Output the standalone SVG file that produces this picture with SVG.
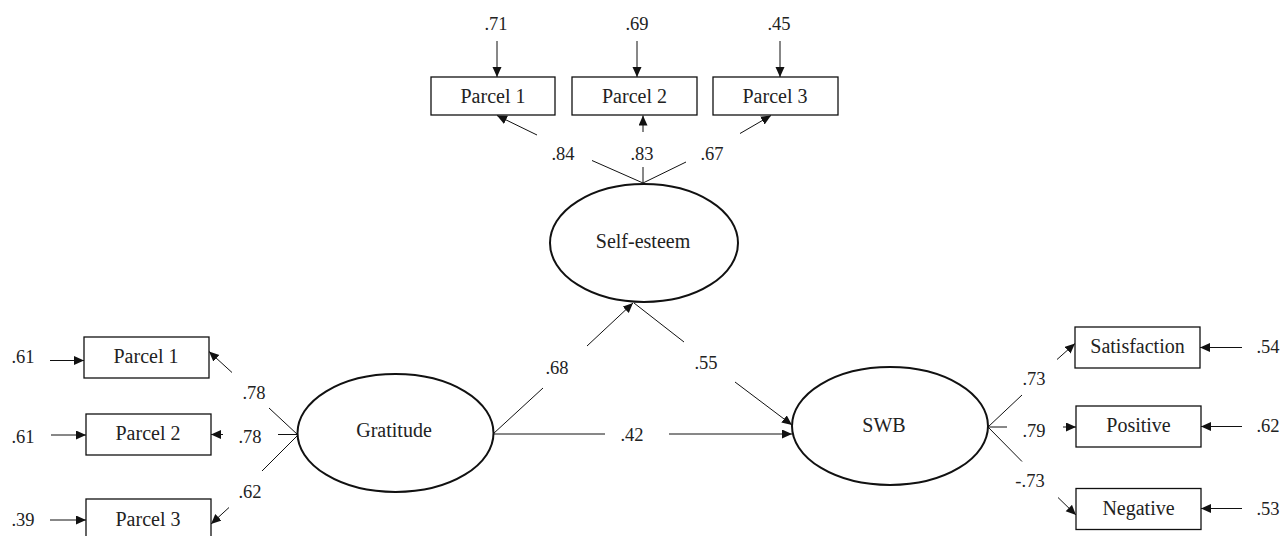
<svg xmlns="http://www.w3.org/2000/svg" width="1284" height="536" viewBox="0 0 1284 536">
<defs>
<style>
.box{fill:#fff;stroke:#111;stroke-width:1.3}
.lat{fill:#fff;stroke:#111;stroke-width:2}
.ln{fill:none;stroke:#111;stroke-width:1}
.lab{font-family:"Liberation Serif","Times New Roman",serif;font-size:20px;fill:#222;text-anchor:middle}
.num{font-family:"Liberation Serif","Times New Roman",serif;font-size:18.5px;fill:#222;text-anchor:middle}
</style>
<marker id="ah" markerUnits="userSpaceOnUse" markerWidth="11" markerHeight="10" refX="10" refY="4.5" orient="auto" viewBox="0 0 11 10">
<path d="M0,0 L10,4.5 L0,9 z" fill="#111"/>
</marker>
</defs>
<rect width="1284" height="536" fill="#fff"/>

<g id="connectors">
<line class="ln" x1="497" y1="41" x2="497" y2="77" marker-end="url(#ah)"/>
<line class="ln" x1="637" y1="41" x2="637" y2="77" marker-end="url(#ah)"/>
<line class="ln" x1="780" y1="41" x2="780" y2="77" marker-end="url(#ah)"/>
<line class="ln" x1="643" y1="183" x2="592" y2="160.5"/>
<line class="ln" x1="537" y1="135" x2="497" y2="115.5" marker-end="url(#ah)"/>
<line class="ln" x1="643" y1="183" x2="643" y2="167"/>
<line class="ln" x1="643" y1="132" x2="643" y2="115.5" marker-end="url(#ah)"/>
<line class="ln" x1="643" y1="183" x2="686" y2="162"/>
<line class="ln" x1="740" y1="133.5" x2="771" y2="115.5" marker-end="url(#ah)"/>
<line class="ln" x1="493" y1="434" x2="543" y2="388"/>
<line class="ln" x1="587" y1="346" x2="633" y2="303" marker-end="url(#ah)"/>
<line class="ln" x1="634" y1="303" x2="684" y2="342"/>
<line class="ln" x1="735" y1="382" x2="792" y2="425" marker-end="url(#ah)"/>
<line class="ln" x1="493" y1="434" x2="605" y2="434"/>
<line class="ln" x1="669" y1="434" x2="792" y2="434" marker-end="url(#ah)"/>
<line class="ln" x1="298" y1="435" x2="269" y2="408"/>
<line class="ln" x1="232" y1="372.5" x2="209" y2="351.5" marker-end="url(#ah)"/>
<line class="ln" x1="298" y1="434.5" x2="278" y2="434.5"/>
<line class="ln" x1="223" y1="434.5" x2="211" y2="434.5" marker-end="url(#ah)"/>
<line class="ln" x1="298" y1="435" x2="262" y2="471"/>
<line class="ln" x1="229" y1="507.5" x2="211" y2="524" marker-end="url(#ah)"/>
<line class="ln" x1="50" y1="360.5" x2="84" y2="360.5" marker-end="url(#ah)"/>
<line class="ln" x1="51" y1="435" x2="86" y2="435" marker-end="url(#ah)"/>
<line class="ln" x1="50" y1="520" x2="86" y2="520" marker-end="url(#ah)"/>
<line class="ln" x1="988" y1="427" x2="1022" y2="395"/>
<line class="ln" x1="1057" y1="359.5" x2="1075" y2="343.5" marker-end="url(#ah)"/>
<line class="ln" x1="988" y1="427" x2="1007" y2="427"/>
<line class="ln" x1="1063" y1="427" x2="1076" y2="427" marker-end="url(#ah)"/>
<line class="ln" x1="988" y1="427" x2="1022" y2="461.5"/>
<line class="ln" x1="1058" y1="497.5" x2="1076" y2="515" marker-end="url(#ah)"/>
<line class="ln" x1="1242" y1="347.5" x2="1200" y2="347.5" marker-end="url(#ah)"/>
<line class="ln" x1="1242" y1="426.5" x2="1201" y2="426.5" marker-end="url(#ah)"/>
<line class="ln" x1="1242" y1="508.5" x2="1201" y2="508.5" marker-end="url(#ah)"/>
</g>

<g id="labels">
<text class="num" x="496" y="30">.71</text>
<text class="num" x="637" y="30">.69</text>
<text class="num" x="779" y="30">.45</text>
<text class="num" x="563" y="160">.84</text>
<text class="num" x="642" y="160">.83</text>
<text class="num" x="712" y="160">.67</text>
<text class="num" x="557" y="374">.68</text>
<text class="num" x="706" y="369">.55</text>
<text class="num" x="632" y="441">.42</text>
<text class="num" x="23" y="363">.61</text>
<text class="num" x="23" y="442.5">.61</text>
<text class="num" x="23" y="526">.39</text>
<text class="num" x="254" y="399">.78</text>
<text class="num" x="250" y="442.5">.78</text>
<text class="num" x="250" y="498">.62</text>
<text class="num" x="1034" y="385">.73</text>
<text class="num" x="1034" y="436.5">.79</text>
<text class="num" x="1030" y="486.5">-.73</text>
<text class="num" x="1268" y="353">.54</text>
<text class="num" x="1268" y="431.5">.62</text>
<text class="num" x="1268" y="515">.53</text>
</g>

<g id="se-parcel1"><rect class="box" x="431" y="77" width="124" height="38"/><text class="lab" x="493" y="103">Parcel 1</text></g>
<g id="se-parcel2"><rect class="box" x="572" y="77" width="125" height="38"/><text class="lab" x="634.5" y="103">Parcel 2</text></g>
<g id="se-parcel3"><rect class="box" x="713" y="77" width="125" height="38"/><text class="lab" x="775" y="103">Parcel 3</text></g>

<g id="self-esteem"><ellipse class="lat" cx="644" cy="243" rx="94" ry="59"/><text class="lab" x="643" y="248">Self-esteem</text></g>
<g id="gratitude"><ellipse class="lat" cx="395.5" cy="433" rx="98" ry="59"/><text class="lab" x="394" y="437">Gratitude</text></g>
<g id="swb"><ellipse class="lat" cx="890" cy="426" rx="98" ry="59"/><text class="lab" x="884" y="432">SWB</text></g>

<g id="gr-parcel1"><rect class="box" x="84" y="337" width="125" height="41"/><text class="lab" x="146" y="363">Parcel 1</text></g>
<g id="gr-parcel2"><rect class="box" x="86" y="414" width="125" height="41"/><text class="lab" x="148" y="439.5">Parcel 2</text></g>
<g id="gr-parcel3"><rect class="box" x="86" y="499" width="125" height="41"/><text class="lab" x="148" y="525.5">Parcel 3</text></g>

<g id="satisfaction"><rect class="box" x="1075" y="327" width="125" height="41"/><text class="lab" x="1137.5" y="353">Satisfaction</text></g>
<g id="positive"><rect class="box" x="1076" y="406" width="125" height="41"/><text class="lab" x="1138.5" y="432">Positive</text></g>
<g id="negative"><rect class="box" x="1076" y="488.5" width="125" height="41"/><text class="lab" x="1138.5" y="515">Negative</text></g>
</svg>
